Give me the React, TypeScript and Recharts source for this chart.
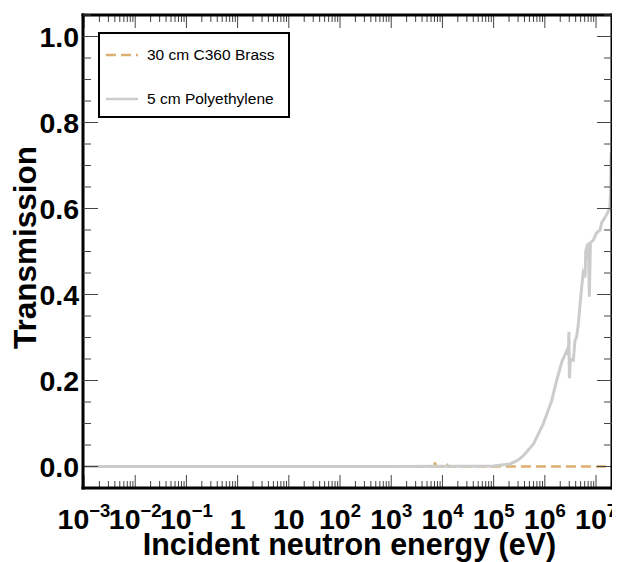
import React from 'react';
import { LineChart, Line, XAxis, YAxis, Legend } from 'recharts';

// ---- data ----
const polyEnergy = [
  1e-3, 1e-1, 10, 1e3, 1e4, 3e4, 1e5, 1.3e5, 2.1e5, 3.0e5, 3.8e5, 5.96e5, 9.3e5,
  1.36e6, 1.7e6, 2.14e6, 2.48e6, 2.7e6, 2.88e6, 2.95e6, 3.02e6, 3.16e6,
  3.6e6, 3.9e6, 4.17e6, 4.5e6, 4.9e6, 5.25e6, 5.62e6, 6.1e6, 6.3e6, 6.6e6,
  7.08e6, 7.4e6, 7.76e6, 8.9e6, 1.02e7, 1.2e7, 1.29e7, 1.51e7, 1.74e7,
  1.86e7, 1.93e7, 1.96e7,
];
const polyTransmission = [
  0, 0, 0, 0, 0.0005, 0.0008, 0.001, 0.003, 0.006, 0.015, 0.025, 0.052, 0.099,
  0.153, 0.2, 0.243, 0.26, 0.27, 0.26, 0.313, 0.205, 0.25,
  0.247, 0.294, 0.30, 0.33, 0.38, 0.418, 0.45, 0.44, 0.50, 0.51,
  0.52, 0.395, 0.52, 0.527, 0.543, 0.55, 0.567, 0.58, 0.594,
  0.602, 0.644, 0.73,
];
const brassEnergy = [1e-3, 1e3, 7.0e3, 7.2e3, 7.4e3, 1.2e4, 1.25e4, 1.3e4, 5e4, 1e6, 2.0e7];
const brassTransmission = [0, 0, 0, 0.015, 0, 0, 0.003, 0, 0, 0, 0];

const seriesNames = ['30 cm C360 Brass', '5 cm Polyethylene'];
const seriesColors = ['#DDAF6E', '#CCCCCC'];

const xExponents = [-3, -2, -1, 0, 1, 2, 3, 4, 5, 6, 7];
const yMajorTicks = [0, 0.2, 0.4, 0.6, 0.8, 1.0];
const yTickLabels = ['0.0', '0.2', '0.4', '0.6', '0.8', '1.0'];
const xDomain = [9.56e-4, 2.05e7];
const yDomain = [-0.05, 1.05];

// ---- derived tables ----
const rowsMap = new Map<number, any>();
polyEnergy.forEach((e, i) => {
  rowsMap.set(e, { ...(rowsMap.get(e) || { e }), poly: polyTransmission[i] });
});
brassEnergy.forEach((e, i) => {
  rowsMap.set(e, { ...(rowsMap.get(e) || { e }), brass: brassTransmission[i] });
});
const tableData = Array.from(rowsMap.values()).sort((a, b) => a.e - b.e);

const xTicks: number[] = [];
xExponents.forEach((k) => {
  for (let m = 1; m <= 9; m++) {
    const v = m * Math.pow(10, k);
    if (v >= xDomain[0] && v <= xDomain[1]) xTicks.push(v);
  }
});
const yTicks: number[] = [];
for (let i = 0; i <= 22; i++) yTicks.push(Math.round((-0.05 + i * 0.05) * 1000) / 1000);

const FONT = '"Liberation Sans", Arial, Helvetica, sans-serif';
const W = 612;
const H = 554;
const M = { top: 7, right: 8, left: 0, bottom: 0 };
const YW = 75;
const XH = 74;
const PLOT_W = W - M.right - YW;
const PLOT_H = H - M.top - XH;

const XTick = (props: any) => {
  const { x, y, payload } = props;
  const v = payload.value;
  const lg = Math.log10(v);
  const exp = Math.round(lg);
  const major = Math.abs(lg - exp) < 1e-6;
  const len = major ? 13 : 7;
  let label: any = null;
  if (major) {
    label = (
      <text x={x} y={y + 41} textAnchor="middle" fontFamily={FONT} fontWeight="bold" fontSize={28.5} fill="#000">
        {exp === 0 ? '1' : exp === 1 ? '10' : (
          <>
            10
            <tspan dy={-12} fontSize={18.5}>{exp < 0 ? '\u2212' + -exp : String(exp)}</tspan>
          </>
        )}
      </text>
    );
  }
  return (
    <g>
      <line x1={x} x2={x} y1={y} y2={y - len} stroke="#444" strokeWidth={1} />
      <line x1={x} x2={x} y1={y - PLOT_H} y2={y - PLOT_H + len} stroke="#444" strokeWidth={1} />
      {label}
    </g>
  );
};

const YTick = (props: any) => {
  const { x, y, payload } = props;
  const v = payload.value;
  const idx = yMajorTicks.findIndex((t) => Math.abs(t - v) < 1e-6);
  const major = idx >= 0;
  const len = major ? 15 : 8;
  let frame: any = null;
  if (Math.abs(v) < 1e-9) {
    const b = y + ((0 - yDomain[0]) / (yDomain[1] - yDomain[0])) * PLOT_H;
    const t = b - PLOT_H;
    const r = x + PLOT_W;
    frame = (
      <g stroke="#000" strokeWidth={3} strokeLinecap="square">
        <line x1={x} x2={r} y1={t} y2={t} />
        <line x1={r} x2={r} y1={t} y2={b} />
        <line x1={x} x2={r} y1={b} y2={b} />
        <line x1={x} x2={x} y1={t} y2={b} />
      </g>
    );
  }
  return (
    <g>
      <line x1={x} x2={x + len} y1={y} y2={y} stroke="#444" strokeWidth={1} />
      <line x1={x + PLOT_W} x2={x + PLOT_W - len} y1={y} y2={y} stroke="#444" strokeWidth={1} />
      {major && (
        <text x={x - 4} y={y + 10} textAnchor="end" fontFamily={FONT} fontWeight="bold" fontSize={28.5} fill="#000">
          {yTickLabels[idx]}
        </text>
      )}
      {frame}
    </g>
  );
};

const XTitle = (props: any) => {
  const vb = props.viewBox;
  return (
    <text x={vb.x + vb.width / 2 + 2} y={vb.y + 67} textAnchor="middle" fontFamily={FONT} fontWeight="bold" fontSize={30.5} fill="#000">
      Incident neutron energy (eV)
    </text>
  );
};

const YTitle = (props: any) => {
  const vb = props.viewBox;
  const cx = 28;
  const cy = vb.y + vb.height / 2 - 4;
  return (
    <text x={cx} y={cy} transform={`rotate(-90, ${cx}, ${cy})`} textAnchor="middle" fontFamily={FONT} fontWeight="bold" fontSize={31.5} fill="#000">
      Transmission
    </text>
  );
};

const LegendBox = () => (
  <div
    style={{
      boxSizing: 'border-box',
      width: 192,
      height: 86,
      border: '2.5px solid #000',
      background: '#fff',
      position: 'relative',
      fontFamily: FONT,
      fontSize: 15.5,
      color: '#000',
    }}
  >
    {seriesNames.map((name, i) => (
      <div key={name} style={{ position: 'absolute', left: 0, top: i === 0 ? 11 : 55, height: 20, display: 'flex', alignItems: 'center', whiteSpace: 'nowrap' }}>
        <svg width={46} height={20} style={{ display: 'block' }}>
          <line x1={6} x2={38} y1={10} y2={10} stroke={seriesColors[i]} strokeWidth={2.5} strokeDasharray={i === 0 ? '10 5' : undefined} />
        </svg>
        <span style={{ marginLeft: 1 }}>{name}</span>
      </div>
    ))}
  </div>
);

export default function App() {
  return (
    <LineChart width={W} height={H} data={tableData} margin={M}>
      <XAxis
        xAxisId="x"
        dataKey="e"
        type="number"
        scale="log"
        domain={xDomain}
        allowDataOverflow
        ticks={xTicks}
        interval={0}
        tick={<XTick />}
        tickLine={false}
        axisLine={false}
        tickSize={0}
        tickMargin={0}
        height={XH}
        label={<XTitle />}
      />
      <YAxis
        yAxisId="y"
        type="number"
        domain={yDomain}
        allowDataOverflow
        ticks={yTicks}
        interval={0}
        tick={<YTick />}
        tickLine={false}
        axisLine={false}
        tickSize={0}
        tickMargin={0}
        width={YW}
        label={<YTitle />}
      />
      <Legend
        layout="horizontal"
        verticalAlign="middle"
        align="center"
        wrapperStyle={{ left: 90, top: 24, width: 192, height: 86 }}
        content={() => <LegendBox />}
      />
      <Line
        xAxisId="x"
        yAxisId="y"
        dataKey="brass"
        name={seriesNames[0]}
        type="linear"
        stroke={seriesColors[0]}
        strokeWidth={2.5}
        strokeDasharray="10 5"
        dot={false}
        connectNulls
        isAnimationActive={false}
      />
      <Line
        xAxisId="x"
        yAxisId="y"
        dataKey="poly"
        name={seriesNames[1]}
        type="linear"
        stroke={seriesColors[1]}
        strokeWidth={3}
        dot={false}
        connectNulls
        isAnimationActive={false}
      />
    </LineChart>
  );
}
